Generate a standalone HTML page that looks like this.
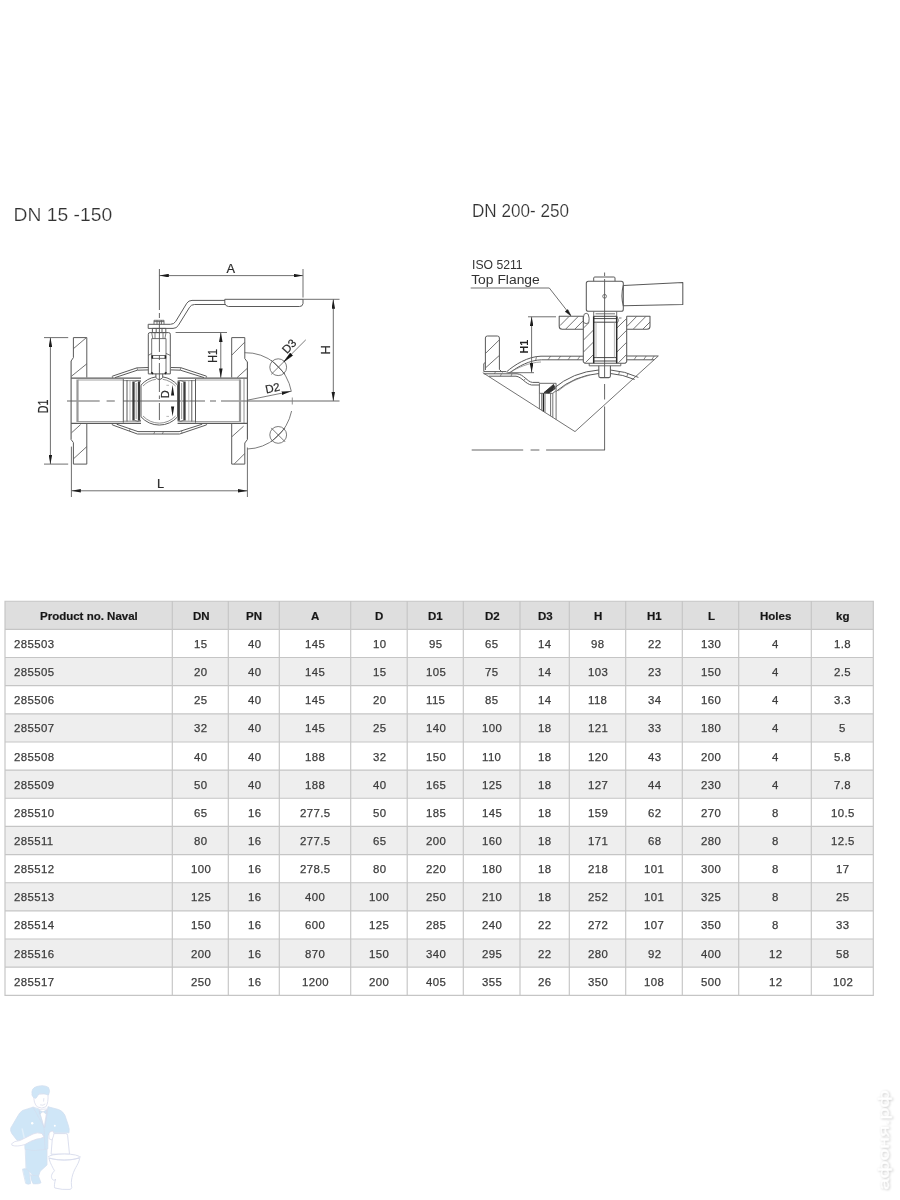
<!DOCTYPE html>
<html lang="en">
<head>
<meta charset="utf-8">
<title>Naval flanged ball valve - dimensions</title>
<style>
html,body{margin:0;padding:0;background:#fff;}
body{width:900px;height:1200px;overflow:hidden;font-family:"Liberation Sans",sans-serif;}
svg{display:block;position:absolute;left:0;top:0;font-family:"Liberation Sans",sans-serif;}
</style>
</head>
<body>
<svg width="900" height="1200" viewBox="0 0 900 1200">
<defs>
<filter id="soft" x="-5%" y="-5%" width="110%" height="110%"><feGaussianBlur stdDeviation="0.45"/></filter>
<filter id="softer" x="-20%" y="-20%" width="140%" height="140%"><feGaussianBlur stdDeviation="0.8"/></filter>
<marker id="ar" viewBox="0 0 9.4 3.6" refX="9.4" refY="1.8" markerWidth="9.4" markerHeight="3.6" orient="auto-start-reverse" markerUnits="userSpaceOnUse"><path d="M0 0L9.4 1.8L0 3.6Z" fill="#1c1c1c" stroke="none"/></marker>
<filter id="wmblur" x="-10%" y="-10%" width="120%" height="120%"><feGaussianBlur stdDeviation="4"/></filter>
<filter id="wmblur2" x="-30%" y="-30%" width="160%" height="160%"><feGaussianBlur stdDeviation="0.5"/></filter>
<filter id="wmblur3" x="-50%" y="-50%" width="200%" height="200%"><feGaussianBlur stdDeviation="1.1"/></filter>
<filter id="tsoft" x="-2%" y="-2%" width="104%" height="104%"><feGaussianBlur stdDeviation="0.35"/></filter>

</defs>
<!-- headings -->
<g font-size="19.2" fill="#303030" stroke="#fff" stroke-width="0.2" filter="url(#soft)">
<text x="13.6" y="221.2" textLength="98.6" lengthAdjust="spacingAndGlyphs">DN 15 -150</text>
<text x="472" y="216.6" textLength="97" lengthAdjust="spacingAndGlyphs">DN 200- 250</text>
</g>

<!-- left drawing: DN 15-150 -->
<g id="drawL">
<g fill="none" stroke="#5a5a5a" stroke-width="1" stroke-linejoin="round" stroke-linecap="butt" filter="url(#soft)">
<!-- centre lines -->
<path d="M67 401H99.7M106.6 401H114.8M123 401H205M210 401H216M221 401H339.5" stroke-width="0.9" stroke="#555"/>
<path d="M159.4 269V310M159.4 313V318M159.4 321V352M159.4 355V360M159.4 363V392M159.4 395.5V399M159.4 403V420" stroke-width="0.9" stroke="#555"/>
<!-- pipe -->
<path d="M71.1 378H141M177.6 378H247.4M71.1 423.4H141M177.6 423.4H247.4" stroke-width="1.25"/>
<path d="M78 380H123.4M195.4 380H240M78 421.5H123.4M195.4 421.5H240" stroke-width="0.8" stroke="#8a8a8a"/>
<path d="M71.1 361V439.5M247.4 362V439.5" stroke-width="1.1"/>
<path d="M77.5 379.5V422M240 379.5V422" stroke="#999" stroke-width="2.2"/>
<path d="M244 379V423" stroke="#777" stroke-width="0.8"/>
<!-- left flange -->
<path d="M73.4 337.6H86.8V377.5M73.4 337.6V357.6L71.1 361M71.1 439.5L73.4 442.6V464.1H86.8V424"/>
<path d="M73.4 348.7L86.2 337.8M71.5 376.2L86.8 363.8M71.5 432.8L80.6 424.6M73.4 458.9L86.8 446.6" stroke-width="0.85"/>
<!-- right flange -->
<path d="M244.8 337.6H231.7V377.5M244.8 337.6V358.6L247.4 362M247.4 439.5L244.8 443V464.1H231.7V424"/>
<path d="M231.9 355L244.7 342.2M237.1 377.6L247.2 368.4M231.9 436.7L243.6 426.2M234.2 464L244.7 453.6" stroke-width="0.85"/>
<!-- body shell top -->
<path d="M112.3 376.2L136.8 367.9L148.4 367.5M171 367.5L180.8 367.7L206.5 376.2M115 377.6L137.4 370.2L148.4 369.9M171 369.9L180.4 370.2L204 377.6"/>
<path d="M112.3 376.2Q111.6 377.4 113 377.8M206.5 376.2Q207.2 377.4 205.8 377.8M136.9 367.9L137.6 370.2M180.8 367.7L180.2 370.2" stroke-width="0.7"/>
<!-- body shell bottom -->
<path d="M112.3 424.9L137.4 434H179.6L206.5 424.9M116.6 424.2L138 431.6H179L202.2 424.2"/>
<path d="M112.3 424.9Q111.6 423.9 113 423.6M206.5 424.9Q207.2 423.9 205.8 423.6M129.4 431L130.2 428.8M153.8 434L154.8 431.6M162.4 434L163.4 431.6M182.2 433.2L181.4 430.8" stroke-width="0.7"/>
<!-- inner sleeves -->
<path d="M123.3 379V422.6M127 380V421.6M191.8 380V421.6M195.5 379V422.6" />
<path d="M130 381V420.6M188.8 381V420.6" stroke="#999" stroke-width="0.7"/>
<path d="M123.3 380.6H141M123.3 421.2H141M177.6 380.6H195.5M177.6 421.2H195.5" stroke-width="0.7"/>
<!-- seats -->
<path d="M133.5 381.6V420.4M139 381.6V420.4M178.7 381.6V420.4M184.5 381.6V420.4" stroke="#3a3a3a" stroke-width="2.3"/>
<path d="M136.2 383V419M181.6 383V419" stroke="#aaa" stroke-width="1.2"/>
<path d="M134.6 381.6Q137.6 379.6 141 381.8M134.6 420.4Q137.6 422.4 141 420.2M177.6 381.8Q180.6 379.6 183.6 381.6M177.6 420.2Q180.6 422.4 183.6 420.4" stroke-width="0.8"/>
<!-- ball -->
<path d="M141 385.2A24.4 24.4 0 0 1 155.9 376.9M162.7 376.9A24.4 24.4 0 0 1 177.6 385.2M177.6 416.8A24.4 24.4 0 0 1 141 416.8M141 385.2V416.8M177.6 385.2V416.8"/>
<path d="M143 386A22.2 22.2 0 0 1 155.9 379.3M162.7 379.3A22.2 22.2 0 0 1 175.6 386M175.6 416A22.2 22.2 0 0 1 143 416" stroke-width="0.8" stroke="#777"/>
<!-- stem foot -->
<path d="M155.9 373.7V377.6Q159.3 381.4 162.7 377.6V373.7" />
<!-- stem housing -->
<path d="M148.3 373.9V334.2Q148.3 332.6 150 332.6H168.6Q170.3 332.6 170.3 334.2V373.9Z"/>
<path d="M151.7 338.6V373.9M166 338.6V373.9M151.7 338.6H166M151.7 355.5H166M151.7 358.4H166M148.3 355.4L151.7 353.4M170.3 355.4L166 353.4" stroke-width="0.85"/>
<path d="M151.7 332.6L152.8 338.6M166 332.6L164.9 338.6M155 332.6V338.6M163 332.6V338.6" stroke-width="0.8"/>
<path d="M152.3 355.5V358.4M165.4 355.5V358.4M151.4 372.2L153 373.9M166.4 372.2L164.8 373.9" stroke="#222" stroke-width="1.6"/>
<!-- nuts and handle plate -->
<path d="M152.4 328.4H165.8V332.6H152.4ZM156.2 328.4V332.6M162 328.4V332.6" />
<path d="M154 324.3V320.3H164V324.3M157 320.3V324.3M161.4 320.3V324.3M154 321.6H164" stroke-width="0.85"/>
<!-- handle plate + lever -->
<path d="M148.2 324.3H170.4Q173.8 324.3 175.6 321.6L186.8 303.2Q188.6 300.4 192 300.4H225"/>
<path d="M148.2 324.3V328.4H173Q176.4 328.4 178.2 325.6L189.6 307.2Q191.2 304.5 194.6 304.5H225"/>
<!-- grip -->
<path d="M224.8 299.3H303V303.6Q302.6 306.5 299.6 306.5H228.4Q225.6 306.3 224.8 303.4Z"/>
<!-- H extension -->
<path d="M303 299.3H339.5" stroke-width="0.9" stroke="#606060"/>
<!-- dimension lines -->
<g stroke="#606060" stroke-width="0.9">
<path d="M159.4 275.6H303" marker-start="url(#ar)" marker-end="url(#ar)"/>
<path d="M303 269V297.5"/>
<path d="M333.3 299.3V401" marker-start="url(#ar)" marker-end="url(#ar)"/>
<path d="M175.6 332.5H227"/>
<path d="M220.8 332.5V377.8" marker-start="url(#ar)" marker-end="url(#ar)"/>
<path d="M44 337.6H68.2M44 464.1H68.2"/>
<path d="M50.4 337.6V464.1" marker-start="url(#ar)" marker-end="url(#ar)"/>
<path d="M71.4 446.6V497M247.4 447.5V497"/>
<path d="M71.4 490.8H247.4" marker-start="url(#ar)" marker-end="url(#ar)"/>
<path d="M166.4 385.3H169M166.4 416.4H169" stroke="#888" stroke-width="0.6"/>
</g>
<path d="M172.6 385L174.2 395.5H171ZM172.6 416.4L174.2 406.4H171Z" fill="#1c1c1c" stroke="none"/>
<!-- bolt circle -->
<path d="M244.7 352.7A46.3 48 0 0 1 291.4 391.6" stroke-width="0.8"/>
<path d="M292.3 397.5V404.5" stroke-width="0.8" stroke="#777"/>
<path d="M291.6 411A46.3 48 0 0 1 247.4 449" stroke-width="0.8"/>
<circle cx="278.2" cy="367.2" r="8.4" stroke-width="0.8"/>
<circle cx="278.2" cy="434.9" r="8.4" stroke-width="0.8"/>
<path d="M271.2 374.4L305.8 339.8M271.2 360.2L285.2 374.2M271.2 441.9L285.2 427.9M271.2 427.9L285.2 441.9" stroke-width="0.8"/>
<path d="M283.9 361.8L290.2 353.1L292.6 355.5Z" fill="#111" stroke="#111" stroke-width="0.6"/>
<path d="M247.4 400.2L291 391.3" stroke-width="0.8" marker-end="url(#ar)"/>
</g>
<!-- labels -->
<g font-size="12.8" fill="#2a2a2a" stroke="#2a2a2a" stroke-width="0.2" text-anchor="middle" filter="url(#soft)">
<text x="230.8" y="272.5">A</text>
<text x="160.5" y="488.4">L</text>
<text transform="translate(330.4 349.8) rotate(-90)">H</text>
<text transform="translate(217.3 356) rotate(-90)" font-size="12.2" textLength="13.6" lengthAdjust="spacingAndGlyphs">H1</text>
<text transform="translate(48.2 406.4) rotate(-90)" font-size="14" textLength="13.6" lengthAdjust="spacingAndGlyphs">D1</text>
<text transform="translate(168.6 394.3) rotate(-90)" font-size="11">D</text>
<text transform="translate(292 349) rotate(-47)" font-size="11.5">D3</text>
<text transform="translate(273.4 392) rotate(-12)" font-size="11.5">D2</text>
</g>

</g>
<!-- right drawing: DN 200-250 -->
<g id="drawR">
<g fill="none" stroke="#5a5a5a" stroke-width="1" stroke-linejoin="round" filter="url(#soft)">
<!-- clip-like diagonal cut -->
<path d="M482.8 372.7L575 431.6L658.3 356" stroke-width="0.85"/>
<!-- centre lines -->
<path d="M471.7 450H523.2M530.6 450H539.4M546.1 450H605" stroke-width="0.9" stroke="#555"/>
<path d="M604.6 272.5V276M604.6 279V377M604.6 384V399.5M604.6 406.5V450" stroke-width="0.9" stroke="#555"/>
<!-- head block -->
<path d="M593.7 281.2V278Q593.7 277 594.8 277H613.9Q615 277 615 278V281.2" />
<path d="M588.4 281.2H621.2Q623.3 281.2 623.3 283.3V309.2Q623.3 311.3 621.2 311.3H588.4Q586.3 311.3 586.3 309.2V283.3Q586.3 281.2 588.4 281.2Z" stroke-width="1.05"/>
<circle cx="604.6" cy="296.3" r="1.9" stroke-width="0.8"/>
<!-- handle arm -->
<path d="M623.3 285.4L682.8 282.6V304.4L623.3 305.8Q620.6 295.6 623.3 285.4" stroke-width="1.05"/>
<!-- stem top between head and flange -->
<path d="M593.7 311.5V316.3M616.7 311.5V316.3M595.5 313.8H615" stroke-width="0.85"/>
<!-- flange plate left -->
<path d="M583.3 316.3H559.2V326.2Q559.2 329.2 562.2 329.2H583.3" stroke-width="1.05"/>
<path d="M565.8 329L578.2 316.5M575 329L583.3 320.6M560 325.6L569 316.5" stroke-width="0.85"/>
<!-- flange plate right -->
<path d="M626.7 316.3H650V326.2Q650 329.2 647 329.2H626.7" stroke-width="1.05"/>
<path d="M633.4 329L645.8 316.5M626.8 326.5L636.6 316.5M643 329L650 322" stroke-width="0.85"/>
<!-- neck bushing -->
<path d="M583.3 316.3V361.8L585 363.3H625L626.7 361.8V316.3" stroke-width="1.05"/>
<path d="M583.5 340L593.5 330M583.5 352L593.5 342M585.5 362.6L593.5 354.5M583.5 328L589 322.6M616.9 340L626.5 330.4M616.9 352L626.5 342.4M618.6 362.6L626.5 354.6M616.9 328L626.5 318.6" stroke-width="0.85"/>
<!-- stem -->
<path d="M593.7 316.3V363.3M616.7 316.3V363.3" stroke="#2a2a2a" stroke-width="1.5"/>
<path d="M593.7 316.3H616.7M593.7 318.6H616.7M593.7 322.2H616.7M593.7 357.6H616.7M593.7 361H616.7" stroke="#333" stroke-width="0.9"/>
<path d="M596 322.2V357.6M614.4 322.2V357.6" stroke="#999" stroke-width="0.7"/>
<!-- small bolt on left -->
<path d="M583.6 322.6Q582.6 318 584.2 314.2Q586.2 312.4 588.2 314.2Q589.8 318 588.8 322.6Q586.2 324.6 583.6 322.6Z" stroke-width="0.9"/>
<path d="M616.8 316.4L618.6 320.4L617 323.4M619 318H621.5" stroke-width="0.8"/>
<!-- plate under neck + lower stem -->
<path d="M589.2 363.3V365.8H620.8V363.3" stroke-width="0.9"/>
<path d="M598.8 365.8V376Q598.8 377.6 600.4 377.6H608.8Q610.4 377.6 610.4 376V365.8" stroke-width="1.05"/>
<!-- body shell right -->
<path d="M626.7 356H658.3M626.7 359.8H654.2" />
<path d="M634 359.8L636.6 356M643.6 359.8L646.2 356M651.6 359.8L654.2 356" stroke-width="0.75"/>
<!-- body shell left (curved) -->
<path d="M506.2 372.2C514 365 528 356.4 541 356.2H583.3"/>
<path d="M510.4 372.4C518 366.4 530 360 541.6 359.8H583.3"/>
<path d="M548 359.8L550.6 356.2M558 359.8L560.6 356.2M568 359.8L570.6 356.2M577.4 359.8L580 356.2M535.6 360.8L536.4 357" stroke-width="0.75"/>
<path d="M508.6 373C517 368 529 362.4 541 362" stroke="#777" stroke-width="0.7"/>
<!-- left flange block -->
<path d="M485.4 370V338Q485.4 336 487.4 336H497.4Q499.4 336 499.4 338V369.4L502.4 372.4M485.4 362.4L483.8 363.6V371.6"/>
<path d="M485.6 353.3L499.2 340M485.6 367.8L499.2 355.6" stroke-width="0.85"/>
<!-- pipe top at flange, inner wall -->
<path d="M483.8 371.6H506M483.8 373.8H517C524 374.4 527 381.8 532.4 382.4H539.4M489 376.2H516C522 377 525.6 384.2 531.6 385H539.4" />
<path d="M494.4 373.8L495.6 371.6M500.4 376.2L501.4 373.8M511 376.2L512 373.8M523.6 380.6L525.8 378.4" stroke-width="0.7"/>
<!-- seat -->
<path d="M539.4 383.3H556.1V390.6L552.8 393.3H539.4Z" stroke-width="0.9"/>
<path d="M544 392.6L553.6 384.4L555.2 388.6L549 393Z" fill="#333" stroke="#222" stroke-width="0.8"/>
<path d="M539.4 393.3V408.9M541.7 393.3V410.3M545 393.3V412.4M550.6 393.3V416M552.8 393.3V417.4M556.1 391V419.5" stroke-width="0.85"/>
<path d="M543.4 393.3V411.4" stroke="#222" stroke-width="1.3"/>
<!-- ball arcs -->
<path d="M556.1 391.4A76 76 0 0 1 598.8 373.5M610.4 373.5A76 76 0 0 1 634.6 379.5"/>
<path d="M553.4 388.6A79.6 79.6 0 0 1 598.8 370M610.4 370A79.6 79.6 0 0 1 638.4 377.4"/>
<path d="M589.6 375.2A74 74 0 0 0 558 391" stroke="#777" stroke-width="0.7"/>
<path d="M618.6 374.8L619.6 371.2M626.6 377L628 373.6" stroke-width="0.75"/>
<!-- H1 dimension -->
<g stroke="#606060" stroke-width="0.9">
<path d="M528 316.8H556M507.2 372.7H534"/>
<path d="M531.6 316.8V372.5" marker-start="url(#ar)" marker-end="url(#ar)"/>
<!-- leader -->
<path d="M470.7 288H549.3L570.4 315" />
</g>
<path d="M570.9 315.8L565.2 311.6L567.8 309.6Z" fill="#1c1c1c" stroke="#1c1c1c" stroke-width="0.5"/>
</g>
<g fill="#333" filter="url(#soft)">
<text x="472" y="269.4" font-size="12.6" textLength="50.6" lengthAdjust="spacingAndGlyphs">ISO 5211</text>
<text x="471.2" y="284.2" font-size="12.8" textLength="68.6" lengthAdjust="spacingAndGlyphs">Top Flange</text>
<text transform="translate(528.2 346.7) rotate(-90)" font-size="10.8" font-weight="bold" text-anchor="middle" fill="#222">H1</text>
</g>

</g>
<!-- table -->
<g id="tbl">
<rect x="5" y="601.2" width="868.3" height="28.15" fill="#dedede"/>
<rect x="5" y="657.50" width="868.3" height="28.15" fill="#eeeeee"/>
<rect x="5" y="713.80" width="868.3" height="28.15" fill="#eeeeee"/>
<rect x="5" y="770.10" width="868.3" height="28.15" fill="#eeeeee"/>
<rect x="5" y="826.40" width="868.3" height="28.15" fill="#eeeeee"/>
<rect x="5" y="882.70" width="868.3" height="28.15" fill="#eeeeee"/>
<rect x="5" y="939.00" width="868.3" height="28.15" fill="#eeeeee"/>
<path d="M4.42 601.20H873.88M4.42 629.35H873.88M4.42 657.50H873.88M4.42 685.65H873.88M4.42 713.80H873.88M4.42 741.95H873.88M4.42 770.10H873.88M4.42 798.25H873.88M4.42 826.40H873.88M4.42 854.55H873.88M4.42 882.70H873.88M4.42 910.85H873.88M4.42 939.00H873.88M4.42 967.15H873.88M4.42 995.30H873.88M5 601.2V995.30M172.3 601.2V995.30M228.3 601.2V995.30M279.3 601.2V995.30M350.7 601.2V995.30M407.2 601.2V995.30M463.3 601.2V995.30M520 601.2V995.30M569.3 601.2V995.30M625.7 601.2V995.30M682.3 601.2V995.30M738.7 601.2V995.30M811.3 601.2V995.30M873.3 601.2V995.30" stroke="#c5c5c5" stroke-width="1.15" fill="none"/>
<g font-weight="bold" font-size="11.5" fill="#181818" stroke="#181818" stroke-width="0.2" filter="url(#tsoft)">
<text x="40" y="620">Product no. Naval</text>
<text x="193" y="620">DN</text>
<text x="246" y="620">PN</text>
<text x="311" y="620">A</text>
<text x="375" y="620">D</text>
<text x="428" y="620">D1</text>
<text x="485" y="620">D2</text>
<text x="538" y="620">D3</text>
<text x="594" y="620">H</text>
<text x="647" y="620">H1</text>
<text x="708" y="620">L</text>
<text x="760" y="620">Holes</text>
<text x="836" y="620">kg</text>
</g>
<g font-size="11.4" fill="#3c3c3c" stroke="#3c3c3c" stroke-width="0.25" letter-spacing="0.4" filter="url(#tsoft)">
<text x="14" y="648">285503</text>
<text x="194" y="648">15</text>
<text x="248" y="648">40</text>
<text x="305" y="648">145</text>
<text x="373" y="648">10</text>
<text x="429" y="648">95</text>
<text x="485" y="648">65</text>
<text x="538" y="648">14</text>
<text x="591" y="648">98</text>
<text x="648" y="648">22</text>
<text x="701" y="648">130</text>
<text x="772" y="648">4</text>
<text x="834" y="648">1.8</text>
<text x="14" y="676">285505</text>
<text x="194" y="676">20</text>
<text x="248" y="676">40</text>
<text x="305" y="676">145</text>
<text x="373" y="676">15</text>
<text x="426" y="676">105</text>
<text x="485" y="676">75</text>
<text x="538" y="676">14</text>
<text x="588" y="676">103</text>
<text x="648" y="676">23</text>
<text x="701" y="676">150</text>
<text x="772" y="676">4</text>
<text x="834" y="676">2.5</text>
<text x="14" y="704">285506</text>
<text x="194" y="704">25</text>
<text x="248" y="704">40</text>
<text x="305" y="704">145</text>
<text x="373" y="704">20</text>
<text x="426" y="704">115</text>
<text x="485" y="704">85</text>
<text x="538" y="704">14</text>
<text x="588" y="704">118</text>
<text x="648" y="704">34</text>
<text x="701" y="704">160</text>
<text x="772" y="704">4</text>
<text x="834" y="704">3.3</text>
<text x="14" y="732">285507</text>
<text x="194" y="732">32</text>
<text x="248" y="732">40</text>
<text x="305" y="732">145</text>
<text x="373" y="732">25</text>
<text x="426" y="732">140</text>
<text x="482" y="732">100</text>
<text x="538" y="732">18</text>
<text x="588" y="732">121</text>
<text x="648" y="732">33</text>
<text x="701" y="732">180</text>
<text x="772" y="732">4</text>
<text x="839" y="732">5</text>
<text x="14" y="761">285508</text>
<text x="194" y="761">40</text>
<text x="248" y="761">40</text>
<text x="305" y="761">188</text>
<text x="373" y="761">32</text>
<text x="426" y="761">150</text>
<text x="482" y="761">110</text>
<text x="538" y="761">18</text>
<text x="588" y="761">120</text>
<text x="648" y="761">43</text>
<text x="701" y="761">200</text>
<text x="772" y="761">4</text>
<text x="834" y="761">5.8</text>
<text x="14" y="789">285509</text>
<text x="194" y="789">50</text>
<text x="248" y="789">40</text>
<text x="305" y="789">188</text>
<text x="373" y="789">40</text>
<text x="426" y="789">165</text>
<text x="482" y="789">125</text>
<text x="538" y="789">18</text>
<text x="588" y="789">127</text>
<text x="648" y="789">44</text>
<text x="701" y="789">230</text>
<text x="772" y="789">4</text>
<text x="834" y="789">7.8</text>
<text x="14" y="817">285510</text>
<text x="194" y="817">65</text>
<text x="248" y="817">16</text>
<text x="300" y="817">277.5</text>
<text x="373" y="817">50</text>
<text x="426" y="817">185</text>
<text x="482" y="817">145</text>
<text x="538" y="817">18</text>
<text x="588" y="817">159</text>
<text x="648" y="817">62</text>
<text x="701" y="817">270</text>
<text x="772" y="817">8</text>
<text x="831" y="817">10.5</text>
<text x="14" y="845">285511</text>
<text x="194" y="845">80</text>
<text x="248" y="845">16</text>
<text x="300" y="845">277.5</text>
<text x="373" y="845">65</text>
<text x="426" y="845">200</text>
<text x="482" y="845">160</text>
<text x="538" y="845">18</text>
<text x="588" y="845">171</text>
<text x="648" y="845">68</text>
<text x="701" y="845">280</text>
<text x="772" y="845">8</text>
<text x="831" y="845">12.5</text>
<text x="14" y="873">285512</text>
<text x="191" y="873">100</text>
<text x="248" y="873">16</text>
<text x="300" y="873">278.5</text>
<text x="373" y="873">80</text>
<text x="426" y="873">220</text>
<text x="482" y="873">180</text>
<text x="538" y="873">18</text>
<text x="588" y="873">218</text>
<text x="644" y="873">101</text>
<text x="701" y="873">300</text>
<text x="772" y="873">8</text>
<text x="836" y="873">17</text>
<text x="14" y="901">285513</text>
<text x="191" y="901">125</text>
<text x="248" y="901">16</text>
<text x="305" y="901">400</text>
<text x="369" y="901">100</text>
<text x="426" y="901">250</text>
<text x="482" y="901">210</text>
<text x="538" y="901">18</text>
<text x="588" y="901">252</text>
<text x="644" y="901">101</text>
<text x="701" y="901">325</text>
<text x="772" y="901">8</text>
<text x="836" y="901">25</text>
<text x="14" y="929">285514</text>
<text x="191" y="929">150</text>
<text x="248" y="929">16</text>
<text x="305" y="929">600</text>
<text x="369" y="929">125</text>
<text x="426" y="929">285</text>
<text x="482" y="929">240</text>
<text x="538" y="929">22</text>
<text x="588" y="929">272</text>
<text x="644" y="929">107</text>
<text x="701" y="929">350</text>
<text x="772" y="929">8</text>
<text x="836" y="929">33</text>
<text x="14" y="958">285516</text>
<text x="191" y="958">200</text>
<text x="248" y="958">16</text>
<text x="305" y="958">870</text>
<text x="369" y="958">150</text>
<text x="426" y="958">340</text>
<text x="482" y="958">295</text>
<text x="538" y="958">22</text>
<text x="588" y="958">280</text>
<text x="648" y="958">92</text>
<text x="701" y="958">400</text>
<text x="769" y="958">12</text>
<text x="836" y="958">58</text>
<text x="14" y="986">285517</text>
<text x="191" y="986">250</text>
<text x="248" y="986">16</text>
<text x="302" y="986">1200</text>
<text x="369" y="986">200</text>
<text x="426" y="986">405</text>
<text x="482" y="986">355</text>
<text x="538" y="986">26</text>
<text x="588" y="986">350</text>
<text x="644" y="986">108</text>
<text x="701" y="986">500</text>
<text x="769" y="986">12</text>
<text x="833" y="986">102</text>
</g>
</g>
<!-- watermarks -->
<g transform="translate(0 1075) scale(0.1)" filter="url(#wmblur)" stroke-linejoin="round" stroke-linecap="round">
<!-- toilet -->
<g fill="#fff" stroke="#d7dbec" stroke-width="9">
<path d="M526 602Q528 586 546 586H658Q674 586 676 602L695 792H515Z"/>
<path d="M490 838C505 890 530 930 545 958C515 985 505 1020 525 1045C540 1058 555 1050 556 1040C545 1080 540 1110 548 1130Q620 1150 700 1144Q716 1140 718 1125C705 1060 722 990 758 925C775 895 790 870 796 838Z"/>
<ellipse cx="642" cy="820" rx="158" ry="30"/>
<path d="M498 832Q640 872 786 832" fill="none" stroke-width="7"/>
</g>
<!-- trousers / legs -->
<path d="M256 738L470 738L470 900L402 962L385 1012L330 1005L310 985L290 960L262 935Z" fill="#cfe6f7" stroke="#d3e0f0" stroke-width="8"/>
<path d="M228 940Q262 925 290 960L306 1086Q282 1098 260 1086Z" fill="#cfe6f7" stroke="#d3dff0" stroke-width="8"/>
<path d="M306 1000L384 1010L410 1078Q395 1092 332 1088Q312 1060 306 1000Z" fill="#cfe6f7" stroke="#d3dff0" stroke-width="8"/>
<!-- jacket -->
<path d="M330 322L225 355Q195 375 178 410L108 530Q100 555 118 585L172 655L245 640L250 742L335 756L440 745L478 738L480 600L520 578L690 578Q698 540 682 500L648 400Q625 358 585 345L482 318L440 520L395 345Z" fill="#cfe6f7" stroke="#d3e0f0" stroke-width="8"/>
<path d="M222 540L245 640" stroke="#e2effa" stroke-width="14" fill="none"/>
<!-- shirt V -->
<path d="M392 345L470 340L442 520Z" fill="#fff" stroke="#d9dcec" stroke-width="7"/>
<path d="M398 355L428 368L400 388ZM462 352L432 368L460 388Z" fill="#cfe6f7" stroke="#ccd6ea" stroke-width="6"/>
<!-- lapel lines -->
<path d="M330 322L440 520M482 318L450 520M440 520L450 740" fill="none" stroke="#d3dcee" stroke-width="7"/>
<!-- face -->
<path d="M338 200Q333 285 375 320Q420 342 458 318Q486 280 480 190Z" fill="#fff" stroke="#d9dcec" stroke-width="8"/>
<path d="M405 300Q430 310 450 292M438 235L436 262" fill="none" stroke="#d6daea" stroke-width="7"/>
<!-- hair -->
<path d="M322 200Q305 130 370 115Q440 95 485 125Q505 160 485 200Q440 178 392 186L360 232Q330 235 322 200Z" fill="#cfe6f7" stroke="#d3e0f0" stroke-width="8"/>
<!-- hands / wrench -->
<path d="M118 685Q140 660 200 655L250 630L330 590Q370 570 420 585L440 620Q400 640 370 640Q300 660 250 695Q170 720 125 705Z" fill="#fff" stroke="#d9dcec" stroke-width="8"/>
<path d="M490 585Q500 555 530 560Q548 580 535 610L520 650L495 640Z" fill="#fff" stroke="#d9dcec" stroke-width="8"/>
<circle cx="322" cy="483" r="12" fill="#fff"/><circle cx="548" cy="508" r="10" fill="#fff"/>
</g>
<!-- vertical text watermark -->
<g font-size="15" font-weight="normal">
<text transform="translate(889.8 1190.6) rotate(-90)" fill="#c8c8c8" stroke="#c8c8c8" stroke-width="0.3" textLength="100" lengthAdjust="spacingAndGlyphs" filter="url(#wmblur3)">афоня.рф</text>
<text transform="translate(888.8 1190) rotate(-90)" fill="#fff" stroke="#fff" stroke-width="0.35" textLength="100" lengthAdjust="spacingAndGlyphs" filter="url(#wmblur2)">афоня.рф</text>
</g>

</svg>
</body>
</html>
